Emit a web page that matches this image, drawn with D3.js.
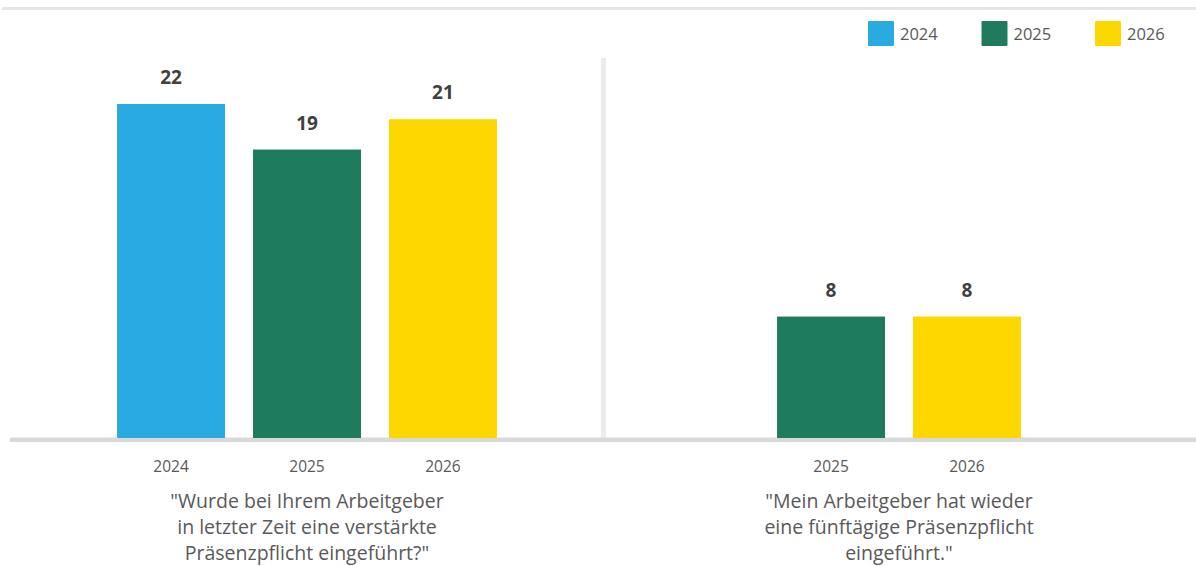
<!DOCTYPE html>
<html>
<head>
<meta charset="utf-8">
<script src="https://cdn.jsdelivr.net/npm/d3@7"></script>
<style>
  html, body { margin: 0; padding: 0; background: #ffffff; }
  svg { display: block; font-family: "Open Sans", "Noto Sans", sans-serif; }
</style>
</head>
<body>
<svg id="chart" width="1196" height="566"></svg>
<script>
// Series (years) and their colours
const seriesYears = ["2024", "2025", "2026"];
const seriesColors = ["#29abe2", "#1e7b5e", "#ffd700"];

// Panel 1: "Wurde bei Ihrem Arbeitgeber ... verstärkte Präsenzpflicht eingeführt?"
const leftYears = ["2024", "2025", "2026"];
const leftValues = [22, 19, 21];
const leftTitle = ["\"Wurde bei Ihrem Arbeitgeber", "in letzter Zeit eine verstärkte", "Präsenzpflicht eingeführt?\""];

// Panel 2: "Mein Arbeitgeber hat wieder eine fünftägige Präsenzpflicht eingeführt."
const rightYears = ["2025", "2026"];
const rightValues = [8, 8];
const rightTitle = ["\"Mein Arbeitgeber hat wieder", "eine fünftägige Präsenzpflicht", "eingeführt.\""];

const svg = d3.select("#chart");
const textColor = "#595959";
const baseY = 438;

const color = d3.scaleOrdinal().domain(seriesYears).range(seriesColors);
const y = d3.scaleLinear()
  .domain([0, d3.max(leftValues.concat(rightValues))])
  .range([baseY, 104]);

// top rule
svg.append("rect").attr("x", 2).attr("y", 7).attr("width", 1194).attr("height", 3).attr("fill", "#e6e6e6");

// legend
const legendX = d3.scalePoint().domain(seriesYears).range([868, 1095]);
const legend = svg.append("g").selectAll("g").data(seriesYears).join("g")
  .attr("transform", d => `translate(${legendX(d)},21)`);
legend.append("rect").attr("width", 26).attr("height", 25).attr("rx", 1).attr("fill", d => color(d));
legend.append("text").attr("x", 32).attr("y", 19)
  .attr("fill", textColor).attr("font-size", 16.5).text(d => d);

// divider between panels
svg.append("rect").attr("x", 601).attr("y", 58).attr("width", 5).attr("height", 384).attr("fill", "#ececec");

// baseline
svg.append("rect").attr("x", 10).attr("y", baseY - 0.5).attr("width", 1186).attr("height", 4.5).attr("fill", "#d9d9d9");

function panel(years, values, titleLines, range) {
  const x = d3.scaleBand().domain(years).range(range).paddingInner(0.206).paddingOuter(0.574);
  const g = svg.append("g");
  const data = years.map((yr, i) => ({ year: yr, value: values[i] }));

  g.selectAll("rect.bar").data(data).join("rect")
    .attr("class", "bar")
    .attr("x", d => x(d.year))
    .attr("width", x.bandwidth())
    .attr("y", d => y(d.value))
    .attr("height", d => y(0) - y(d.value))
    .attr("fill", d => color(d.year));

  g.selectAll("text.val").data(data).join("text")
    .attr("class", "val")
    .attr("x", d => x(d.year) + x.bandwidth() / 2)
    .attr("y", d => y(d.value) - 20)
    .attr("text-anchor", "middle")
    .attr("font-size", 19).attr("font-weight", "bold").attr("fill", "#404040")
    .text(d => d.value);

  // category axis labels
  const axis = d3.axisBottom(x).tickSize(0).tickPadding(0);
  const ax = g.append("g").attr("transform", `translate(0,${baseY})`).call(axis);
  ax.select(".domain").remove();
  ax.selectAll("text")
    .attr("dy", null).attr("y", 34)
    .attr("font-size", 15.5).attr("font-family", "\"Open Sans\", sans-serif").attr("fill", textColor);

  const cx = (range[0] + range[1]) / 2;
  g.append("text").attr("text-anchor", "middle").attr("fill", textColor).attr("font-size", 19.5)
    .selectAll("tspan").data(titleLines).join("tspan")
    .attr("x", cx).attr("y", (d, i) => 508 + i * 26)
    .text(d => d);
}

panel(leftYears, leftValues, leftTitle, [39, 575]);
panel(rightYears, rightValues, rightTitle, [699, 1099]);
</script>
</body>
</html>
